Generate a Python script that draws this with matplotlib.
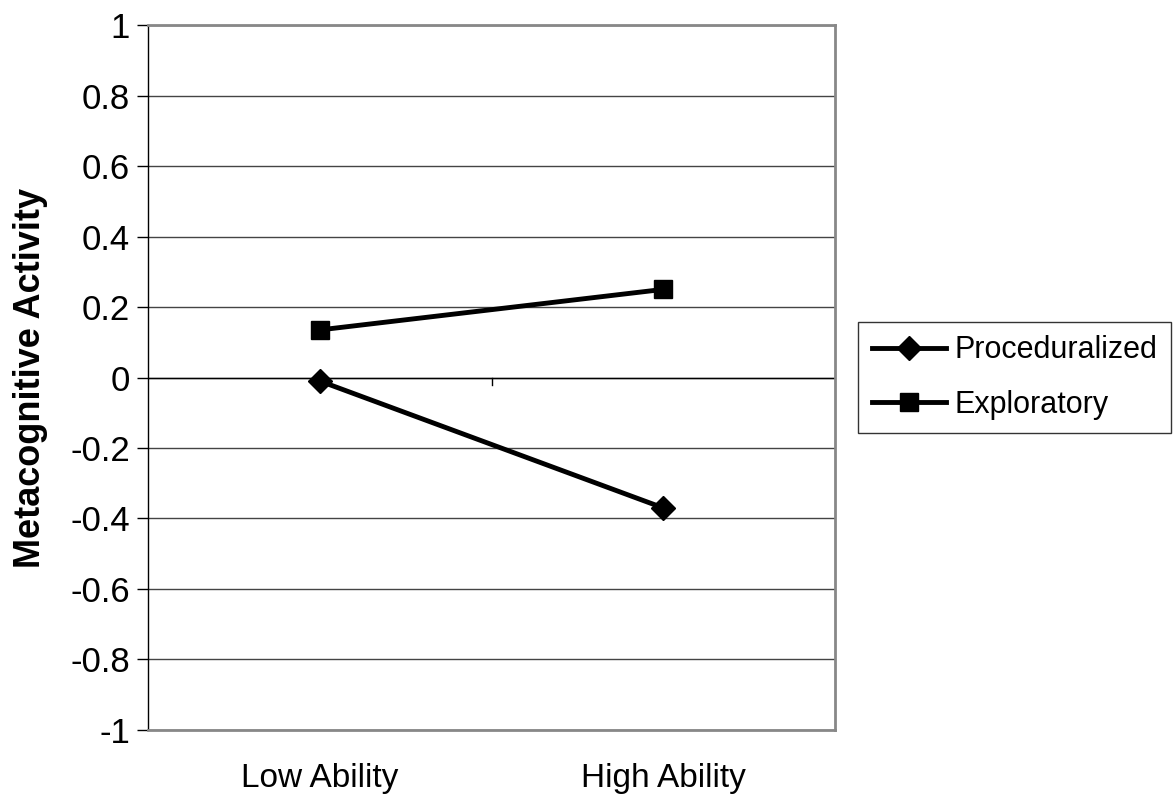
import matplotlib.pyplot as plt

plt.rcParams["font.family"] = ["Liberation Sans", "DejaVu Sans"]

categories = ["Low Ability", "High Ability"]
proceduralized = [-0.01, -0.37]
exploratory = [0.135, 0.25]
y_ticks = [-1, -0.8, -0.6, -0.4, -0.2, 0, 0.2, 0.4, 0.6, 0.8, 1]
y_tick_labels = ["-1", "-0.8", "-0.6", "-0.4", "-0.2", "0", "0.2", "0.4", "0.6", "0.8", "1"]

fig = plt.figure(figsize=(11.73, 8.02), dpi=100)
ax = fig.add_axes([0.1262, 0.0898, 0.5857, 0.879])

x = [0.5, 1.5]
ax.plot(x, proceduralized, color="black", lw=3.5, marker="D", markersize=12,
        label="Proceduralized", zorder=5, clip_on=False)
ax.plot(x, exploratory, color="black", lw=3.5, marker="s", markersize=12.5,
        label="Exploratory", zorder=5, clip_on=False)

ax.set_xlim(0, 2)
ax.set_ylim(-1, 1)
ax.set_yticks(y_ticks)
ax.set_yticklabels(y_tick_labels)
ax.yaxis.grid(True, color="#444444", lw=1)
ax.set_axisbelow(True)

# category axis crosses at y = 0
ax.axhline(0, color="black", lw=1, zorder=2)
ax.plot([1, 1], [0, -0.02], color="black", lw=1, zorder=2)
ax.set_xticks(x)
ax.set_xticklabels(categories)
ax.tick_params(axis="x", length=0, pad=24, labelsize=24)
ax.tick_params(axis="y", length=8, width=1, pad=5, labelsize=25)

for side in ["top", "right", "bottom"]:
    ax.spines[side].set_color("#888888")
    ax.spines[side].set_linewidth(2)
ax.spines["left"].set_color("black")
ax.spines["left"].set_linewidth(1)

ax.set_ylabel("Metacognitive Activity", fontsize=26, fontweight="bold", labelpad=16)

leg = ax.legend(loc="center left", bbox_to_anchor=(1.034, 0.50), fontsize=22,
                frameon=True, fancybox=False, edgecolor="black", handlelength=2.4,
                handletextpad=0.3, borderpad=0.45, labelspacing=0.8, borderaxespad=0)
leg.get_frame().set_linewidth(1)

fig.savefig("out.png", dpi=100)
